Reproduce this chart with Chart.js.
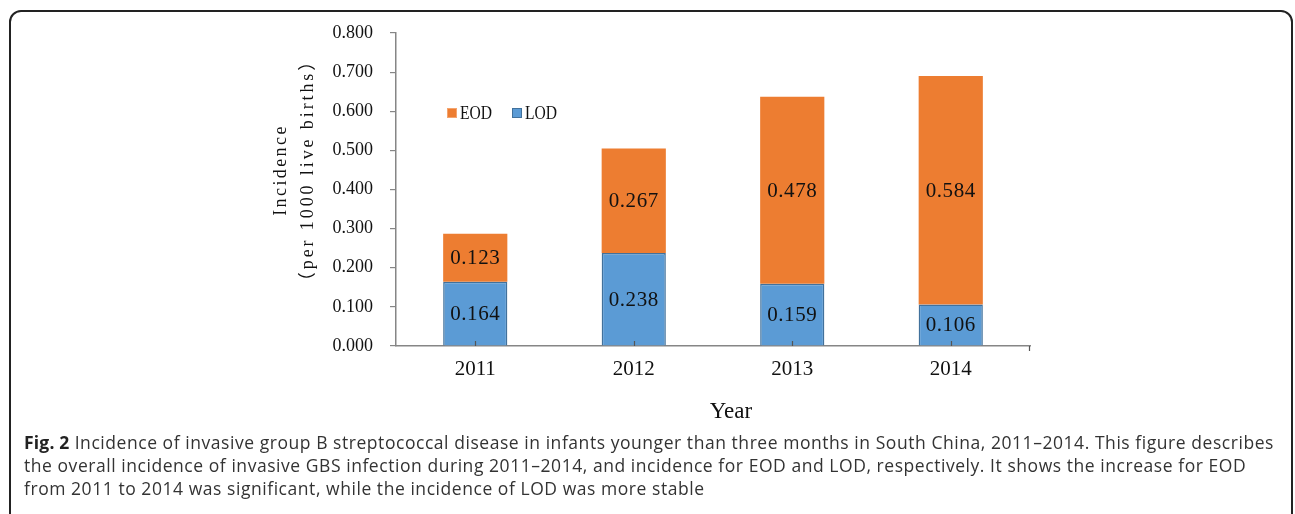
<!DOCTYPE html>
<html>
<head>
<meta charset="utf-8">
<script src="https://cdn.jsdelivr.net/npm/chart.js@4.4.1/dist/chart.umd.min.js"></script>
<style>
  html, body { margin: 0; padding: 0; background: #fff; width: 1295px; height: 514px; overflow: hidden; }
  #frame { position: absolute; left: 9px; top: 10px; width: 1280px; height: 530px; border: 2px solid #222; border-radius: 12px; }
  #wrap { position: absolute; left: 0; top: 0; width: 1295px; height: 514px; }
  #caption { position: absolute; left: 24px; top: 431px; width: 1265px; font-family: "Open Sans", sans-serif; font-size: 17.5px; letter-spacing: 0.55px; line-height: 23px; color: #333; white-space: nowrap; }
  #caption b { color: #222; letter-spacing: 0.2px; }
</style>
</head>
<body>
<div id="frame"></div>
<div id="wrap"><canvas id="c" width="1295" height="514"></canvas></div>
<div id="caption"><b>Fig. 2</b> Incidence of invasive group B streptococcal disease in infants younger than three months in South China, 2011–2014. This figure describes<br>the overall incidence of invasive GBS infection during 2011–2014, and incidence for EOD and LOD, respectively. It shows the increase for EOD<br>from 2011 to 2014 was significant, while the incidence of LOD was more stable</div>
<script>
const categories = ['2011', '2012', '2013', '2014'];
const lodValues = [0.164, 0.238, 0.159, 0.106];
const eodValues = [0.123, 0.267, 0.478, 0.584];
const yMin = 0;
const yMax = 0.8;
const yStep = 0.1;
const yTitleLines = ['Incidence', '（per 1000 live births）'];
const xTitle = 'Year';

const TXT = '#111';
const AXIS = '#868686';
const SERIF = '"Liberation Serif", "DejaVu Serif", "Noto Sans CJK SC", serif';

const extras = {
  id: 'extras',
  afterDatasetsDraw(chart) {
    const ctx = chart.ctx;
    const area = chart.chartArea;
    const xs = chart.scales.x;
    ctx.save();
    // data labels
    ctx.font = '21px ' + SERIF;
    ctx.letterSpacing = '0.6px';
    ctx.fillStyle = TXT;
    ctx.textAlign = 'center';
    ctx.textBaseline = 'middle';
    chart.data.datasets.forEach((ds, di) => {
      const meta = chart.getDatasetMeta(di);
      meta.data.forEach((el, i) => {
        const p = el.getProps(['x', 'y', 'base'], true);
        ctx.fillText(ds.data[i].toFixed(3), p.x, (p.y + p.base) / 2 + 1);
      });
    });
    // x-axis small tick marks
    ctx.strokeStyle = '#555';
    ctx.lineWidth = 1.2;
    ctx.beginPath();
    categories.forEach((c, i) => {
      const x = Math.round(xs.getPixelForValue(i)) + 0.5;
      ctx.moveTo(x, area.bottom);
      ctx.lineTo(x, area.bottom - 5);
    });
    ctx.moveTo(area.right - 0.5, area.bottom);
    ctx.lineTo(area.right - 0.5, area.bottom + 5);
    ctx.stroke();
    ctx.restore();
  },
  afterDraw(chart) {
    const ctx = chart.ctx;
    ctx.save();
    ctx.fillStyle = TXT;
    ctx.textAlign = 'center';
    ctx.textBaseline = 'middle';
    // y title
    ctx.font = '18px ' + SERIF;
    const yc = 170;
    [281, 308].forEach((x, k) => {
      ctx.save();
      ctx.letterSpacing = k === 0 ? '2.4px' : '2.9px';
      ctx.translate(x, yc);
      ctx.rotate(-Math.PI / 2);
      ctx.fillText(yTitleLines[k], 0, 0);
      ctx.restore();
    });
    // x title
    ctx.letterSpacing = '0px';
    ctx.font = '23px ' + SERIF;
    ctx.fillText(xTitle, 731, 412);
    // legend (EOD first, then LOD)
    ctx.font = '19px ' + SERIF;
    ctx.textAlign = 'left';
    const order = [1, 0];
    const lx = [447, 512];
    order.forEach((di, k) => {
      const ds = chart.data.datasets[di];
      ctx.fillStyle = ds.backgroundColor;
      ctx.fillRect(lx[k], 108, 10, 10);
      ctx.strokeStyle = ds.legendBorder;
      ctx.lineWidth = 1;
      ctx.strokeRect(lx[k] + 0.5, 108.5, 9, 9);
      ctx.fillStyle = TXT;
      ctx.save();
      ctx.translate(lx[k] + 13, 114);
      ctx.scale(0.82, 1);
      ctx.fillText(ds.label, 0, 0);
      ctx.restore();
    });
    ctx.restore();
  }
};

new Chart(document.getElementById('c'), {
  type: 'bar',
  data: {
    labels: categories,
    datasets: [
      { label: 'LOD', data: lodValues, backgroundColor: '#5b9bd5', borderColor: '#41719c', borderWidth: 1.5, borderSkipped: 'bottom', legendBorder: '#41719c' },
      { label: 'EOD', data: eodValues, backgroundColor: '#ed7d31', borderWidth: 0, legendBorder: '#f4a46e' }
    ]
  },
  options: {
    responsive: false,
    animation: false,
    devicePixelRatio: 1,
    categoryPercentage: 0.405,
    barPercentage: 1,
    layout: { padding: { left: 0, top: 33, right: 265, bottom: 0 } },
    plugins: { legend: { display: false }, tooltip: { enabled: false } },
    scales: {
      x: {
        stacked: true,
        offset: true,
        grid: { display: false },
        border: { display: true, color: AXIS, width: 1.5 },
        ticks: { color: TXT, font: { family: SERIF, size: 21 }, padding: 3 },
        afterFit(s) { s.height = 168; }
      },
      y: {
        stacked: true,
        min: yMin,
        max: yMax,
        ticks: { stepSize: yStep, color: TXT, font: { family: SERIF, size: 18 }, padding: 17, callback: v => Number(v).toFixed(3) },
        grid: { drawOnChartArea: false, tickLength: 6, color: AXIS, lineWidth: 1.2 },
        border: { display: true, color: AXIS, width: 1.5 },
        afterFit(s) { s.width = 396; }
      }
    }
  },
  plugins: [extras]
});
</script>
</body>
</html>
